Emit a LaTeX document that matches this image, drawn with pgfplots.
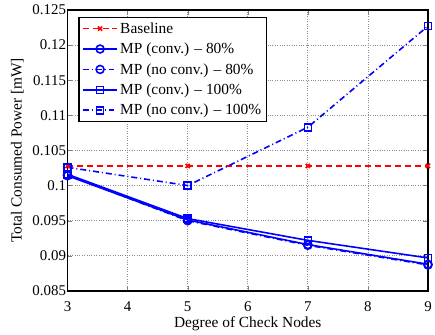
\documentclass[border=0pt]{standalone}
\usepackage{fontspec}
\setmainfont{Liberation Serif}
\usepackage{pgfplots}
\pgfplotsset{compat=1.18}
\begin{document}
\begin{tikzpicture}
\begin{axis}[
  scale only axis,
  width=363pt, height=283pt,
  xmin=3, xmax=9, ymin=0.085, ymax=0.125,
  xtick={3,4,5,6,7,8,9},
  xticklabels={3,4,5,6,7,8,9},
  ytick={0.085,0.09,0.095,0.1,0.105,0.11,0.115,0.12,0.125},
  yticklabels={0.085,0.09,0.095,0.1,0.105,0.11,0.115,0.12,0.125},
  scaled y ticks=false,
  tick label style={font=\fontsize{15}{17}\selectfont},
  xticklabel style={yshift=-7pt},
  yticklabel style={xshift=2pt},
  xlabel={Degree of Check Nodes},
  ylabel={Total Consumed Power [mW]},
  every axis x label/.style={at={(rel axis cs:0.5,0)}, anchor=base, yshift=-37pt, font=\fontsize{15.5}{17}\selectfont},
  every axis y label/.style={at={(rel axis cs:0,0.5)}, anchor=center, rotate=90, yshift=50.5pt, font=\fontsize{15.5}{17}\selectfont},
  tick align=inside,
  major tick length=5pt,
  axis line style={line width=1.2pt},
  grid=major,
  grid style={dotted, gray!90, line width=0.7pt},
  legend style={at={(0.03,0.975)}, anchor=north west, draw=black, line width=1.2pt,
    font=\fontsize{15.5}{18}\selectfont, inner sep=3pt, row sep=4.3pt,
    cells={anchor=west}},
  legend cell align=left,
  legend image code/.code={\draw[mark repeat=2,mark phase=2] plot coordinates {(0pt,0pt) (17.5pt,0pt) (35pt,0pt)};},
  every axis plot/.append style={line width=1.6pt},
]
\addplot[red, dash pattern=on 6pt off 4pt, mark=x, mark size=3pt, mark options={solid}] coordinates {(3,0.1028) (5,0.1028) (7,0.1028) (9,0.1028)};
\addlegendentry{Baseline}
\addplot[blue, solid, mark=o, mark size=4pt] coordinates {(3,0.1014) (5,0.0951) (7,0.0916) (9,0.0888)};
\addlegendentry{MP (conv.) -- 80\%}
\addplot[blue, dash pattern=on 6pt off 3pt on 1pt off 3pt, mark=o, mark size=4pt, mark options={solid}] coordinates {(3,0.1015) (5,0.0950) (7,0.0915) (9,0.0887)};
\addlegendentry{MP (no conv.) -- 80\%}
\addplot[blue, solid, mark=square, mark size=3.5pt] coordinates {(3,0.1016) (5,0.0953) (7,0.0922) (9,0.0897)};
\addlegendentry{MP (conv.) -- 100\%}
\addplot[blue, dash pattern=on 6pt off 3pt on 1pt off 3pt, mark=square, mark size=3.5pt, mark options={solid}] coordinates {(3,0.1026) (5,0.1000) (7,0.1083) (9,0.1227)};
\addlegendentry{MP (no conv.) -- 100\%}
\end{axis}
\path ([xshift=-68pt]current axis.west) ([xshift=4pt]current axis.east)
      ([yshift=10pt]current axis.north) ([yshift=-41pt]current axis.south);
\end{tikzpicture}
\end{document}
